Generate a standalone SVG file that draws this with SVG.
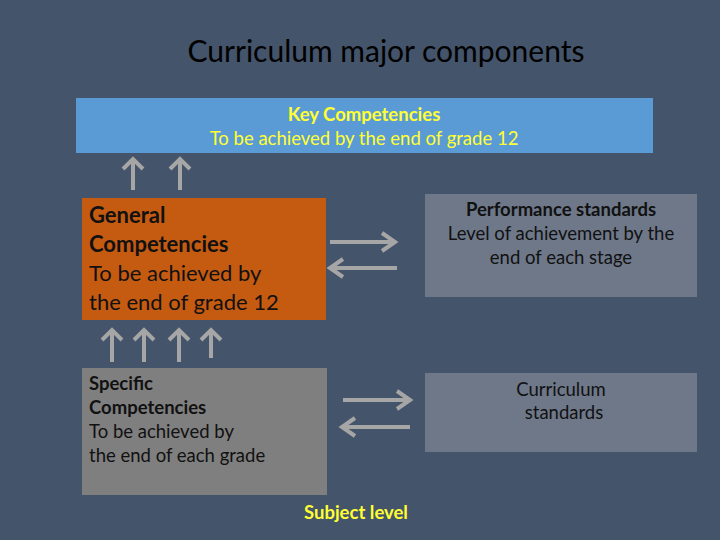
<svg xmlns="http://www.w3.org/2000/svg" width="720" height="540" viewBox="0 0 720 540">
<defs>
<style>
text{font-family:Lato,"Open Sans",sans-serif}
.a{stroke:#a6a6a6;stroke-width:4;fill:none;stroke-linecap:butt}
.y{fill:#ffff33;font-size:18.5px}
.k{fill:#111;font-size:22px}
.d{fill:#111;font-size:18.5px}
.r{fill:#111;font-size:18.5px;text-anchor:middle}
</style>
</defs>
<rect width="720" height="540" fill="#44546a"/>
<text x="386" y="62" text-anchor="middle" font-size="30" fill="#000">Curriculum major components</text>
<g id="key"><rect x="76" y="98" width="577" height="55" fill="#5b9bd5"/>
<text x="364" y="121" class="y" text-anchor="middle" font-weight="bold">Key Competencies</text>
<text x="364" y="145" class="y" text-anchor="middle">To be achieved by the end of grade 12</text></g>
<g id="general"><rect x="82" y="198" width="244" height="122" fill="#c55a11"/>
<text class="k" font-weight="bold"><tspan x="89" y="223">General</tspan><tspan x="89" y="252">Competencies</tspan></text>
<text class="k"><tspan x="89" y="281">To be achieved by</tspan><tspan x="89" y="310">the end of grade 12</tspan></text></g>
<g id="specific"><rect x="82" y="368" width="245" height="127" fill="#7f7f7f"/>
<text class="d" font-weight="bold"><tspan x="89" y="390">Specific</tspan><tspan x="89" y="414">Competencies</tspan></text>
<text class="d"><tspan x="89" y="438">To be achieved by</tspan><tspan x="89" y="462">the end of each grade</tspan></text></g>
<g id="performance"><rect x="425" y="194" width="272" height="103" fill="#6e7889"/>
<text x="561" y="216" class="r" font-weight="bold">Performance standards</text>
<text x="561" y="240" class="r">Level of achievement by the</text>
<text x="561" y="264" class="r">end of each stage</text></g>
<g id="curriculum"><rect x="425" y="373" width="272" height="79" fill="#6e7889"/>
<text x="561" y="396" class="r">Curriculum</text>
<text x="564" y="419" class="r">standards</text></g>
<text id="subject" x="356" y="519" text-anchor="middle" font-size="18.5" font-weight="bold" fill="#ffff33">Subject level</text>
<g id="connectors" class="a">
<path d="M133 190V159M123 169L133 159L143 169"/>
<path d="M180 190V159M170 169L180 159L190 169"/>
<path d="M112 362V330M102 340L112 330L122 340"/>
<path d="M144 362V330M134 340L144 330L154 340"/>
<path d="M179 362V330M169 340L179 330L189 340"/>
<path d="M211 358V330M201 340L211 330L221 340"/>
<path d="M330 242H395M382 233L395 242L382 251"/>
<path d="M397 268H330M343 259L330 268L343 277"/>
<path d="M343 400H410M397 391L410 400L397 409"/>
<path d="M410 427H342M355 418L342 427L355 436"/>
</g>
</svg>
